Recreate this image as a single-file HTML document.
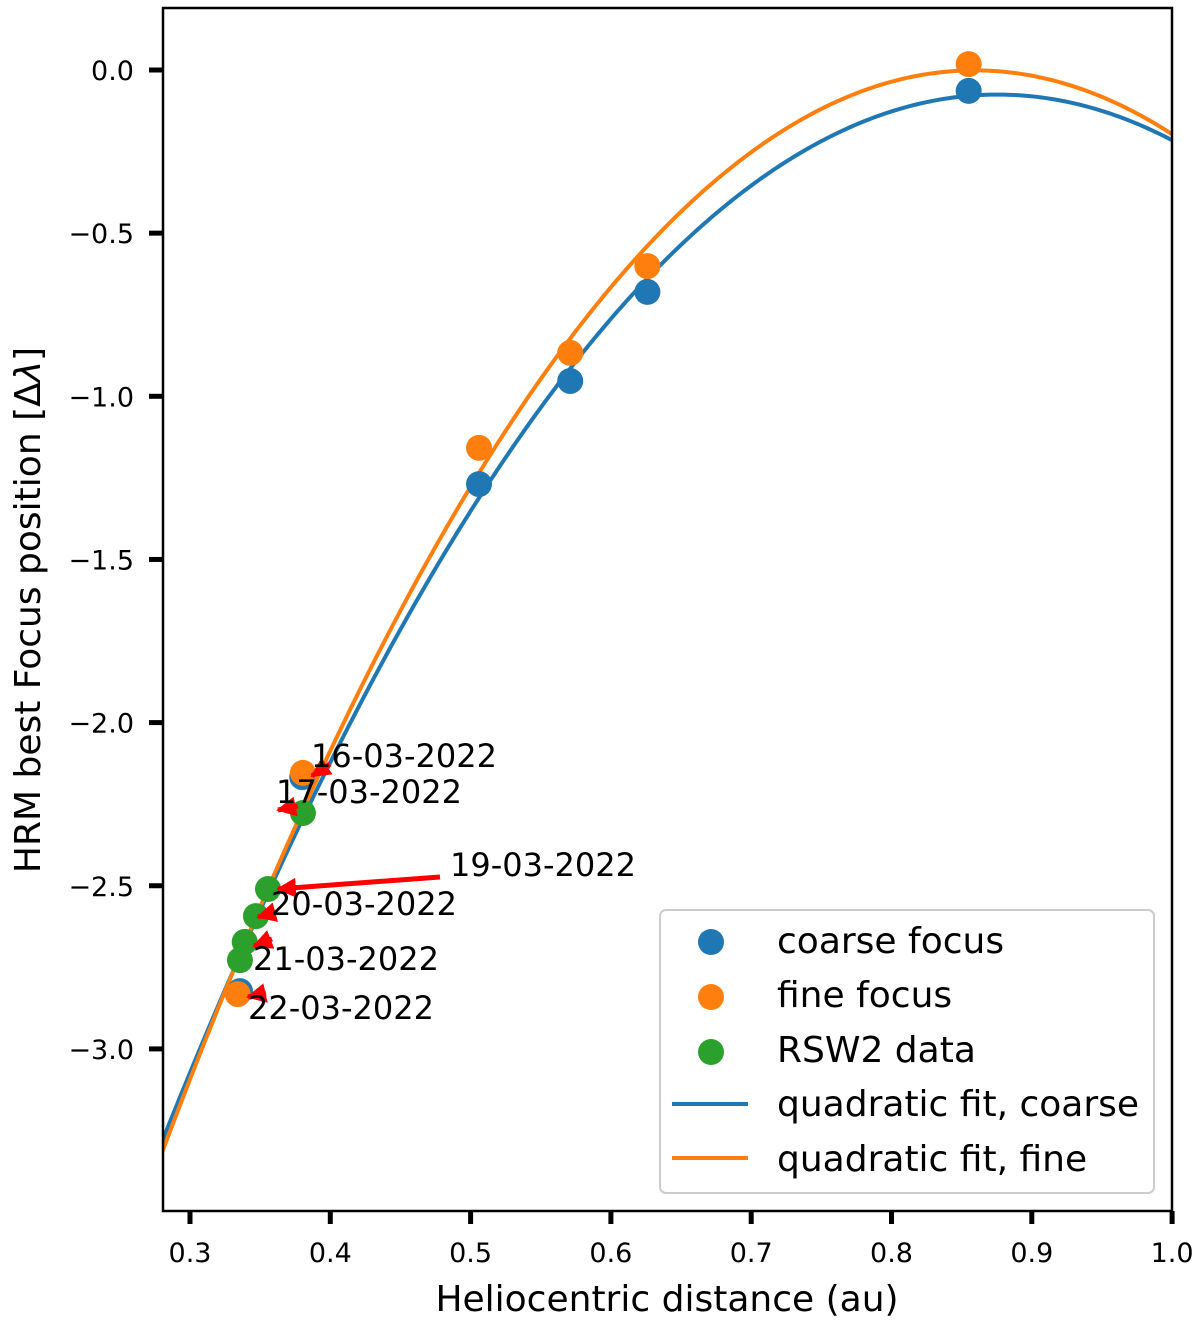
<!DOCTYPE html>
<html><head><meta charset="utf-8"><style>
html,body{margin:0;padding:0;background:#fff;}
svg{display:block;font-family:"DejaVu Sans","Liberation Sans",sans-serif;}
</style></head><body>
<svg id="chart" width="1200" height="1321" viewBox="0 0 1200 1321" xmlns="http://www.w3.org/2000/svg">
<defs>
<clipPath id="plotclip"><rect x="163" y="8" width="1009" height="1203"/></clipPath>
<marker id="ah" viewBox="0 0 10 10" refX="9" refY="5" markerWidth="4" markerHeight="4" orient="auto-start-reverse" markerUnits="strokeWidth"><path d="M0,0 L10,5 L0,10 z" fill="#ff0000"/></marker>
</defs>
<g id="series" clip-path="url(#plotclip)"></g>
<g id="annots"></g>
<rect x="163" y="8" width="1009" height="1203" fill="none" stroke="#000" stroke-width="2.5"/>
<g id="axes"></g>
<text x="667" y="1311" font-size="36" text-anchor="middle">Heliocentric distance (au)</text>
<text transform="translate(40,610) rotate(-90)" font-size="36" text-anchor="middle">HRM best Focus position [Δ<tspan font-style="italic">λ</tspan>]</text>
<g id="legend">
<rect x="660" y="910" width="494" height="283" rx="6" fill="#fff" fill-opacity="0.8" stroke="#ccc" stroke-width="2"/>
<circle cx="711" cy="942" r="13" fill="#1f77b4"/>
<text x="777" y="953" font-size="36">coarse focus</text>
<circle cx="711" cy="997" r="13" fill="#ff7f0e"/>
<text x="777" y="1007" font-size="36">fine focus</text>
<circle cx="711" cy="1052" r="13" fill="#2ca02c"/>
<text x="777" y="1062" font-size="36">RSW2 data</text>
<line x1="672" y1="1104" x2="748" y2="1104" stroke="#1f77b4" stroke-width="4"/>
<text x="777" y="1116" font-size="36">quadratic fit, coarse</text>
<line x1="672" y1="1158" x2="748" y2="1158" stroke="#ff7f0e" stroke-width="4"/>
<text x="777" y="1171" font-size="36">quadratic fit, fine</text>
</g>
</svg>
<script>
const coarseX=[0.3356,0.380,0.506,0.571,0.626,0.855];
const coarseY=[-2.823,-2.167,-1.269,-0.953,-0.680,-0.064];
const fineX=[0.334,0.3805,0.506,0.571,0.626,0.855];
const fineY=[-2.832,-2.154,-1.158,-0.867,-0.601,0.018];
const rswX=[0.3805,0.3556,0.347,0.339,0.3356];
const rswY=[-2.277,-2.510,-2.593,-2.672,-2.728];
const annLabels=["16-03-2022","17-03-2022","19-03-2022","20-03-2022","21-03-2022","22-03-2022"];
const xTicks=[0.3,0.4,0.5,0.6,0.7,0.8,0.9,1.0];
const yTicks=[0.0,-0.5,-1.0,-1.5,-2.0,-2.5,-3.0];

const NS="http://www.w3.org/2000/svg";
const X=v=>190+(v-0.3)*1403;
const Y=v=>70-v*326.3;
function mk(tag,attrs,parent){const e=document.createElementNS(NS,tag);for(const k in attrs)e.setAttribute(k,attrs[k]);parent.appendChild(e);return e;}
const series=document.getElementById('series'),axes=document.getElementById('axes'),annots=document.getElementById('annots');

function quadFit(xs,ys){
  let S=[0,0,0,0,0],T=[0,0,0];
  for(let i=0;i<xs.length;i++){let p=1;for(let k=0;k<5;k++){S[k]+=p;if(k<3)T[k]+=p*ys[i];p*=xs[i];}}
  const M=[[S[0],S[1],S[2],T[0]],[S[1],S[2],S[3],T[1]],[S[2],S[3],S[4],T[2]]];
  for(let i=0;i<3;i++){for(let j=i+1;j<3;j++){const f=M[j][i]/M[i][i];for(let k=i;k<4;k++)M[j][k]-=f*M[i][k];}}
  const c=[0,0,0];for(let i=2;i>=0;i--){let s=M[i][3];for(let k=i+1;k<3;k++)s-=M[i][k]*c[k];c[i]=s/M[i][i];}
  return c;
}
function fitPath(c){let d='';for(let i=0;i<=300;i++){const x=0.28+0.72*i/300;const y=c[0]+c[1]*x+c[2]*x*x;d+=(i?'L':'M')+X(x).toFixed(2)+','+Y(y).toFixed(2);}return d;}

let p=mk('path',{d:fitPath(quadFit(coarseX,coarseY)),fill:'none',stroke:'#1f77b4','stroke-width':4},series);


p=mk('path',{d:fitPath(quadFit(fineX,fineY)),fill:'none',stroke:'#ff7f0e','stroke-width':4},series);



coarseX.forEach((x,i)=>{const c=mk('circle',{cx:X(x),cy:Y(coarseY[i]),r:13,fill:'#1f77b4'},series);

});
fineX.forEach((x,i)=>{const c=mk('circle',{cx:X(x),cy:Y(fineY[i]),r:13,fill:'#ff7f0e'},series);

});
rswX.forEach((x,i)=>{const c=mk('circle',{cx:X(x),cy:Y(rswY[i]),r:13,fill:'#2ca02c'},series);

});

const annGeom=[[311,767,330,764,312,776],[276,803,298,806,278,810],[450,876,440,877,278,889],[271,915,276,912,258,917],[253,970,272,939,254,946],[248,1019,266,993,248,997]];
annLabels.forEach((lab,i)=>{const g=annGeom[i];
  const l=mk('line',{x1:g[2],y1:g[3],x2:g[4],y2:g[5],stroke:'#ff0000','stroke-width':5,'marker-end':'url(#ah)'},annots);
  
  
  const t=mk('text',{x:g[0],y:g[1],'font-size':32},annots);t.textContent=lab;
  
  
});

xTicks.forEach(v=>{const x=X(v);
  const l=mk('line',{x1:x,y1:1211,x2:x,y2:1224,stroke:'#000','stroke-width':5},axes);
  
  
  const t=mk('text',{x:x,y:1262,'font-size':27,'text-anchor':'middle'},axes);t.textContent=v.toFixed(1);
  
  });
yTicks.forEach(v=>{const y=Y(v);
  const l=mk('line',{x1:149,y1:y,x2:163,y2:y,stroke:'#000','stroke-width':5},axes);
  
  
  const t=mk('text',{x:134,y:y+10,'font-size':27,'text-anchor':'end'},axes);t.textContent=(v<0?'\u2212':'')+Math.abs(v).toFixed(1);
  
  });
</script>
</body></html>
